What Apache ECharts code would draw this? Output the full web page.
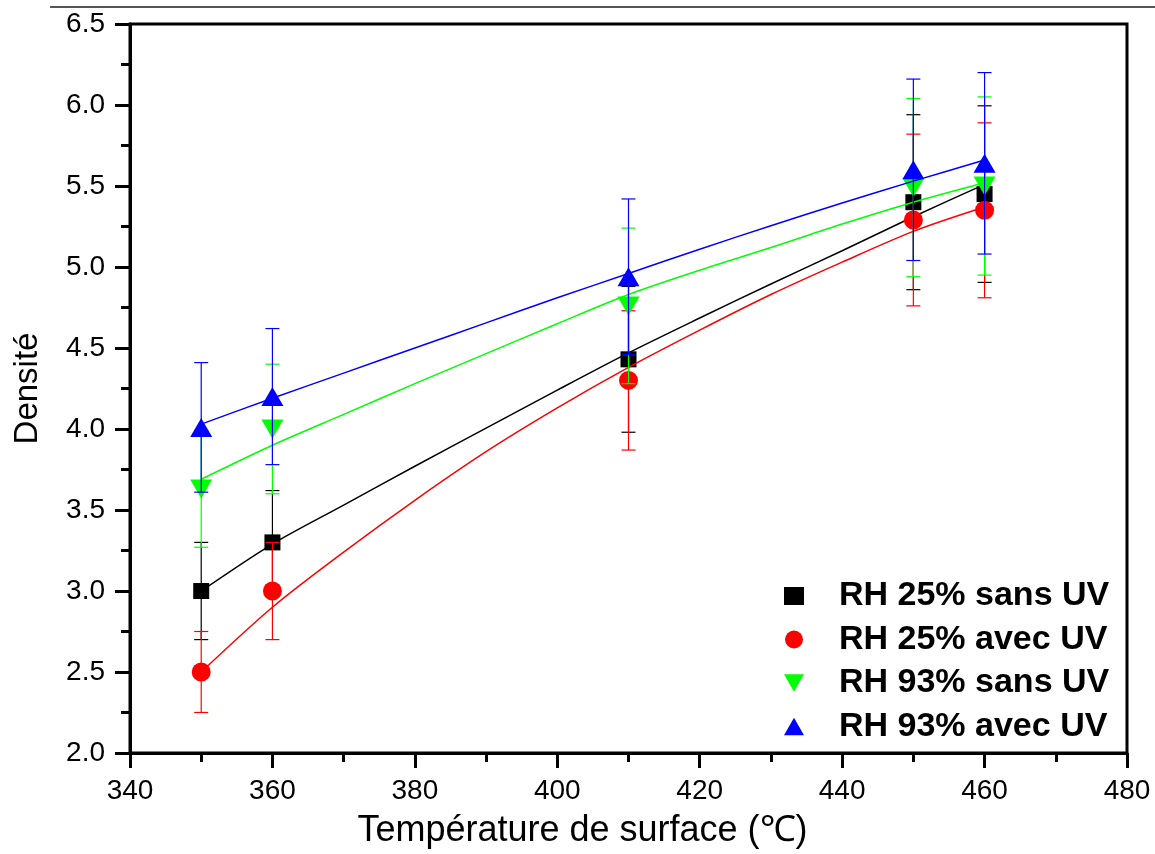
<!DOCTYPE html>
<html>
<head>
<meta charset="utf-8">
<script src="https://cdn.jsdelivr.net/npm/echarts@6/dist/echarts.min.js"></script>
<style>
html,body{margin:0;padding:0;background:#fff;}
#chart{width:1155px;height:854px;}
</style>
</head>
<body>
<div id="chart"></div>
<script>
// ---- data ----
const temps = [350, 360, 410, 450, 460];
const names = ['RH 25% sans UV', 'RH 25% avec UV', 'RH 93% sans UV', 'RH 93% avec UV'];
const s1 = [3.00, 3.30, 4.43, 5.40, 5.45];
const e1 = [0.30, 0.32, 0.45, 0.54, 0.545];
const s2 = [2.50, 3.00, 4.30, 5.29, 5.35];
const e2 = [0.25, 0.30, 0.43, 0.53, 0.54];
const s3 = [3.63, 4.00, 4.76, 5.49, 5.50];
const e3 = [0.36, 0.40, 0.48, 0.55, 0.55];
const s4 = [4.01, 4.20, 4.94, 5.60, 5.64];
const e4 = [0.40, 0.42, 0.48, 0.56, 0.56];

// fitted curves
const fitX = [350, 360, 370, 380, 390, 400, 410, 420, 430, 440, 450, 460];
const fit1 = [3.00, 3.29, 3.53, 3.77, 4.005, 4.24, 4.47, 4.685, 4.895, 5.10, 5.31, 5.51];
const fit2 = [2.50, 2.90, 3.24, 3.56, 3.86, 4.13, 4.38, 4.61, 4.83, 5.03, 5.22, 5.37];
const fit3 = [3.69, 3.90, 4.09, 4.28, 4.465, 4.65, 4.83, 4.98, 5.12, 5.265, 5.40, 5.52];
const fit4 = [4.03, 4.19, 4.345, 4.50, 4.655, 4.81, 4.96, 5.11, 5.255, 5.395, 5.53, 5.66];

const xTicks = [340, 360, 380, 400, 420, 440, 460, 480];
const yTicks = ['2.0','2.5','3.0','3.5','4.0','4.5','5.0','5.5','6.0','6.5'];

// ---- styles ----
const colors = ['#000000', '#ff0000', '#00ff00', '#0000ff'];
const symbols = ['rect', 'circle', 'triangle', 'triangle'];
const rotates = [0, 0, 180, 0];
const sizes = [[16,16], 19, [22,19], [22,19]];
const legendIcons = ['rect', 'circle', 'path://M0,0 L22,0 L11,19 Z', 'path://M11,0 L22,19 L0,19 Z'];
const vals = [s1, s2, s3, s4];
const errs = [e1, e2, e3, e4];
const fits = [fit1, fit2, fit3, fit4];
const FONT = 'Liberation Sans, Arial, sans-serif';

function errRender(color){
  return function(params, api){
    const x = api.value(0), y = api.value(1), e = api.value(2);
    const top = api.coord([x, y + e]);
    const bot = api.coord([x, y - e]);
    const hw = 7;
    const st = {stroke: color, lineWidth: 1.2};
    return {type:'group', children:[
      {type:'line', shape:{x1:top[0], y1:top[1], x2:bot[0], y2:bot[1]}, style:st},
      {type:'line', shape:{x1:top[0]-hw, y1:top[1], x2:top[0]+hw, y2:top[1]}, style:st},
      {type:'line', shape:{x1:bot[0]-hw, y1:bot[1], x2:bot[0]+hw, y2:bot[1]}, style:st}
    ]};
  };
}

const series = [];
for (let k = 0; k < 4; k++) {
  series.push({
    name: names[k] + ' fit', type: 'line', z: 2 + k*3,
    data: fitX.map((x,i)=>[x, fits[k][i]]),
    showSymbol: false, symbol: 'none', smooth: 0.3,
    lineStyle: {color: colors[k], width: 1.5},
    silent: true, animation: false
  });
  series.push({
    name: names[k], type: 'scatter', z: 3 + k*3,
    data: temps.map((t,i)=>[t, vals[k][i]]),
    symbol: symbols[k], symbolRotate: rotates[k], symbolSize: sizes[k],
    itemStyle: {color: colors[k], opacity: 1},
    animation: false
  });
  series.push({
    name: names[k] + ' err', type: 'custom', z: 4 + k*3,
    data: temps.map((t,i)=>[t, vals[k][i], errs[k][i]]),
    renderItem: errRender(colors[k]),
    encode: {x: 0, y: 1},
    silent: true, animation: false
  });
}

const chart = echarts.init(document.getElementById('chart'), null, {renderer: 'canvas'});
chart.setOption({
  backgroundColor: '#ffffff',
  animation: false,
  grid: {left: 130, top: 24, right: 28, bottom: 97, show: true, borderColor: '#000', borderWidth: 3, backgroundColor: 'transparent'},
  xAxis: {
    type: 'value', min: 340, max: 480, interval: 20,
    name: 'Température de surface (℃)', nameLocation: 'middle', nameGap: 60,
    nameTextStyle: {fontFamily: FONT, fontSize: 36, color: '#000', padding: [0, 92, 0, 0]},
    axisLine: {lineStyle: {color: '#000', width: 3}},
    axisTick: {inside: false, length: 15, lineStyle: {color: '#000', width: 3}},
    minorTick: {show: true, splitNumber: 2, length: 9, lineStyle: {color: '#000', width: 3}},
    splitLine: {show: false},
    axisLabel: {fontFamily: FONT, fontSize: 28, color: '#000', margin: 24,
      formatter: v => xTicks.includes(v) ? String(v) : ''}
  },
  yAxis: {
    type: 'value', min: 2, max: 6.5, interval: 0.5,
    name: 'Densité', nameLocation: 'middle', nameGap: 86, nameRotate: 90,
    nameTextStyle: {fontFamily: FONT, fontSize: 33, color: '#000'},
    axisLine: {lineStyle: {color: '#000', width: 3}},
    axisTick: {inside: false, length: 15, lineStyle: {color: '#000', width: 3}},
    minorTick: {show: true, splitNumber: 2, length: 9, lineStyle: {color: '#000', width: 3}},
    splitLine: {show: false},
    axisLabel: {fontFamily: FONT, fontSize: 28, color: '#000', margin: 25,
      formatter: v => yTicks[Math.round((v - 2) / 0.5)] || ''}
  },
  legend: {
    data: names.map((n,k)=>({name: n, icon: legendIcons[k]})),
    orient: 'vertical', left: 779, top: 574,
    itemWidth: 20, itemHeight: 18, itemGap: 9.5,
    textStyle: {fontFamily: FONT, fontSize: 34, fontWeight: 'bold', color: '#000', lineHeight: 34, padding: [0,0,0,30]},
    selectedMode: false
  },
  graphic: [{
    type: 'line', shape: {x1: 50, y1: 7, x2: 1155, y2: 7},
    style: {stroke: '#555555', lineWidth: 2}, silent: true
  }],
  series: series
});
</script>
</body>
</html>
